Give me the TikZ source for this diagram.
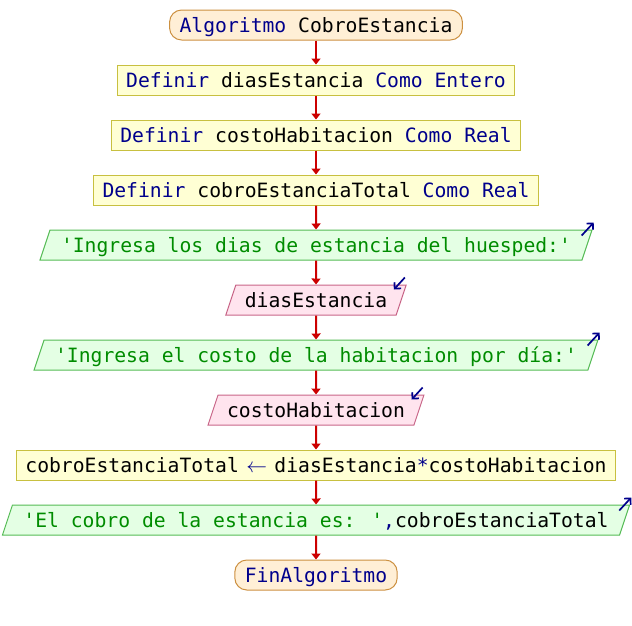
\documentclass[tikz,border=0pt]{standalone}
\usepackage{fontspec}
\setmainfont{DejaVu Sans Mono}[WordSpace={1,0,0}, Ligatures=TeXOff]
\usetikzlibrary{shapes.geometric,arrows.meta}

\definecolor{kw}{HTML}{00008C}
\definecolor{strg}{HTML}{008C00}
\definecolor{termfill}{HTML}{FFEFD6}
\definecolor{termline}{HTML}{CC9040}
\definecolor{declfill}{HTML}{FFFFD4}
\definecolor{declline}{HTML}{C8C040}
\definecolor{outfill}{HTML}{E4FFE4}
\definecolor{outline}{HTML}{55BB55}
\definecolor{infill}{HTML}{FFE4EE}
\definecolor{inline}{HTML}{C86688}
\definecolor{flowred}{HTML}{CC0000}

\newcommand{\kwd}[1]{\textcolor{kw}{#1}}
\newcommand{\strtxt}[1]{\textcolor{strg}{#1}}
\newcommand{\assignarrow}{\makebox[11.86pt][c]{\textcolor{kw}{$\leftarrow$}}}

\begin{document}
\begin{tikzpicture}[x=1pt,y=-1pt,
  base/.style={font=\fontsize{19.7}{22}\selectfont, text height=16pt,
    text depth=2pt, inner ysep=6pt, line width=1pt},
  term/.style={base, draw=termline, fill=termfill, rounded corners=12pt, inner xsep=10pt},
  decl/.style={base, draw=declline, fill=declfill, inner xsep=9pt},
  slant/.style={base, trapezium, trapezium left angle=71.57,
    trapezium right angle=108.43},
  outbox/.style={slant, draw=outline, fill=outfill, inner xsep=11pt},
  inbox/.style={slant, draw=inline, fill=infill, inner xsep=9pt},
  flow/.style={draw=flowred, line width=2pt, -{Triangle[width=9pt,length=6pt]}},
  ioicon/.style={draw=kw, line width=1.7pt, -{Straight Barb[length=4.5pt,width=9pt]}}
]
\useasboundingbox (0,0) rectangle (632,625);

\node[term]   (start) at (316,25)  {\kwd{Algoritmo} CobroEstancia};
\node[decl]   (d1)    at (316,80)  {\kwd{Definir} diasEstancia \kwd{Como Entero}};
\node[decl]   (d2)    at (316,135) {\kwd{Definir} costoHabitacion \kwd{Como Real}};
\node[decl]   (d3)    at (316,190) {\kwd{Definir} cobroEstanciaTotal \kwd{Como Real}};
\node[outbox] (o1)    at (316,245) {\strtxt{'Ingresa los dias de estancia del huesped:'}};
\node[inbox]  (i1)    at (316,300) {diasEstancia};
\node[outbox] (o2)    at (316,355) {\strtxt{'Ingresa el costo de la habitacion por día:'}};
\node[inbox]  (i2)    at (316,410) {costoHabitacion};
\node[decl]   (asg)   at (316,465) {cobroEstanciaTotal \assignarrow{} diasEstancia\kwd{*}costoHabitacion};
\node[outbox] (o3)    at (316,520) {\strtxt{'El cobro de la estancia es: '}\kwd{,}cobroEstanciaTotal};
\node[term]   (stop)  at (316,575) {\kwd{FinAlgoritmo}};

% flow of control
\foreach \a/\b in {start/d1, d1/d2, d2/d3, d3/o1, o1/i1, i1/o2, o2/i2, i2/asg, asg/o3, o3/stop}
  \draw[flow] (\a.south) -- (\b.north);

% output / input markers at the upper right corners
\foreach \n in {o1,o2,o3}
  \draw[ioicon] ([shift={(-11,6)}]\n.top right corner) -- ([shift={(1,-7)}]\n.top right corner);
\foreach \n in {i1,i2}
  \draw[ioicon] ([shift={(-2,-7)}]\n.top right corner) -- ([shift={(-13,5)}]\n.top right corner);
\end{tikzpicture}
\end{document}
